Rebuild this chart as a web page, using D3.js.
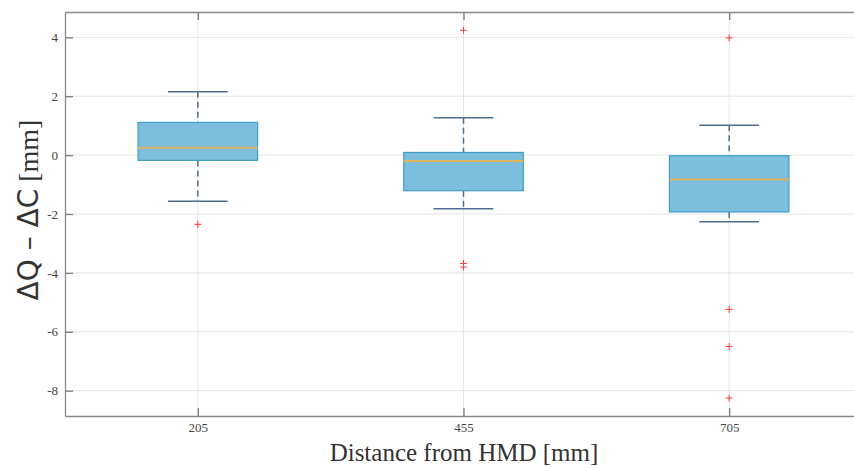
<!DOCTYPE html>
<html>
<head>
<meta charset="utf-8">
<script src="https://cdn.jsdelivr.net/npm/d3@7"></script>
<style>
  body { margin: 0; background: #fff; }
  svg { display: block; }
</style>
</head>
<body>
<svg id="chart" width="854" height="468"></svg>
<script>
// data
let categories = ["205", "455", "705"]
let q1 = [-0.18, -1.21, -1.93]
let medians = [0.25, -0.20, -0.83]
let q3 = [1.11, 0.09, -0.02]
let whiskerLow = [-1.57, -1.82, -2.26]
let whiskerHigh = [2.15, 1.27, 1.01]
let outliers = [
    [-2.35],
    [4.24, -3.68, -3.80],
    [3.98, -5.24, -6.50, -8.25]
]
let yTicks = [-8, -6, -4, -2, 0, 2, 4]

// chart offset variables:
let chartLeft = 65
let chartTop = 12
let chartBottom = 416
let chartRight = 862

let serif = "'Liberation Serif', 'DejaVu Serif', serif"

let svg = d3.select("#chart")

let xscale = d3.scaleLinear().domain([0.5, 3.5]).range([chartLeft, chartRight])
let yscale = d3.scaleLinear().domain([-8.86, 4.86]).range([chartBottom, chartTop])

// grid
svg.append("g").selectAll("line")
    .data(yTicks)
    .enter()
    .append("line")
    .attr("x1", chartLeft).attr("x2", chartRight)
    .attr("y1", d => yscale(d)).attr("y2", d => yscale(d))
    .attr("stroke", "#e6e6e6")
    .attr("stroke-width", 1)

svg.append("g").selectAll("line")
    .data(categories)
    .enter()
    .append("line")
    .attr("x1", (d, i) => xscale(i + 1)).attr("x2", (d, i) => xscale(i + 1))
    .attr("y1", chartTop).attr("y2", chartBottom)
    .attr("stroke", "#e6e6e6")
    .attr("stroke-width", 1)

// axes
let xAxis = d3.axisBottom(xscale)
    .tickValues([1, 2, 3])
    .tickFormat(d => categories[d - 1])
    .tickSizeInner(-8)
    .tickSizeOuter(0)
    .tickPadding(7)
let xg = svg.append("g").attr("transform", "translate(0," + chartBottom + ")").call(xAxis)

let yAxis = d3.axisLeft(yscale)
    .tickValues(yTicks)
    .tickFormat(d => d < 0 ? "-" + Math.abs(d) : d)
    .tickSizeInner(-8)
    .tickSizeOuter(0)
    .tickPadding(7)
let yg = svg.append("g").attr("transform", "translate(" + chartLeft + ",0)").call(yAxis)

// top ticks
let xTop = d3.axisTop(xscale).tickValues([1, 2, 3]).tickFormat("").tickSizeInner(-8).tickSizeOuter(0)
let tg = svg.append("g").attr("transform", "translate(0," + chartTop + ")").call(xTop)

for (let g of [xg, yg, tg]) {
    g.attr("font-family", serif).attr("font-size", 13)
    g.select(".domain").attr("stroke", "#8a8a8a").attr("stroke-width", 1.3)
    g.selectAll(".tick line").attr("stroke", "#7a7a7a").attr("stroke-width", 1.3)
    g.selectAll(".tick text").attr("fill", "#444")
}

// boxes
let boxWidth = 0.45
let capWidth = boxWidth / 2
let idx = [0, 1, 2]
let whiskerColor = "#4e6d92"

// whiskers (dashed)
svg.append("g").selectAll("line")
    .data(idx)
    .enter()
    .append("line")
    .attr("x1", d => xscale(d + 1)).attr("x2", d => xscale(d + 1))
    .attr("y1", d => yscale(whiskerHigh[d])).attr("y2", d => yscale(q3[d]))
    .attr("stroke", whiskerColor).attr("stroke-width", 1.5).attr("stroke-dasharray", "6,4")
svg.append("g").selectAll("line")
    .data(idx)
    .enter()
    .append("line")
    .attr("x1", d => xscale(d + 1)).attr("x2", d => xscale(d + 1))
    .attr("y1", d => yscale(q1[d])).attr("y2", d => yscale(whiskerLow[d]))
    .attr("stroke", whiskerColor).attr("stroke-width", 1.5).attr("stroke-dasharray", "6,4")

// caps
for (let arr of [whiskerHigh, whiskerLow]) {
    svg.append("g").selectAll("line")
        .data(idx)
        .enter()
        .append("line")
        .attr("x1", d => xscale(d + 1 - capWidth / 2)).attr("x2", d => xscale(d + 1 + capWidth / 2))
        .attr("y1", d => yscale(arr[d])).attr("y2", d => yscale(arr[d]))
        .attr("stroke", whiskerColor).attr("stroke-width", 1.5)
}

svg.append("g").selectAll("rect")
    .data(idx)
    .enter()
    .append("rect")
    .attr("x", d => xscale(d + 1 - boxWidth / 2))
    .attr("width", d => xscale(d + 1 + boxWidth / 2) - xscale(d + 1 - boxWidth / 2))
    .attr("y", d => yscale(q3[d]))
    .attr("height", d => yscale(q1[d]) - yscale(q3[d]))
    .attr("fill", "#7cbedb")
    .attr("stroke", "#3f9dc6")
    .attr("stroke-width", 1.2)

// medians
svg.append("g").selectAll("line")
    .data(idx)
    .enter()
    .append("line")
    .attr("x1", d => xscale(d + 1 - boxWidth / 2)).attr("x2", d => xscale(d + 1 + boxWidth / 2))
    .attr("y1", d => yscale(medians[d])).attr("y2", d => yscale(medians[d]))
    .attr("stroke", "#dfb25c").attr("stroke-width", 2)

// outliers
let outlierData = []
for (let i = 0; i < outliers.length; i++) {
    for (let v of outliers[i]) outlierData.push([i + 1, v])
}
svg.append("g").selectAll("path")
    .data(outlierData)
    .enter()
    .append("path")
    .attr("transform", d => "translate(" + xscale(d[0]) + "," + yscale(d[1]) + ")")
    .attr("d", "M-3.5,0H3.5M0,-3.5V3.5")
    .attr("stroke", "#ff3b3b")
    .attr("stroke-width", 1)

// labels
svg.append("text")
    .attr("x", 464)
    .attr("y", 461)
    .attr("text-anchor", "middle")
    .attr("fill", "#333")
    .style("font-family", serif)
    .style("font-size", "25px")
    .text("Distance from HMD [mm]")

let ylab = svg.append("text")
    .attr("transform", "translate(38,210) rotate(-90)")
    .attr("text-anchor", "middle")
    .attr("fill", "#333")
    .style("font-size", "28px")
ylab.append("tspan").style("font-family", "'DejaVu Sans', sans-serif").text("ΔQ – ΔC")
ylab.append("tspan").style("font-family", serif).text(" [mm]")
</script>
</body>
</html>
